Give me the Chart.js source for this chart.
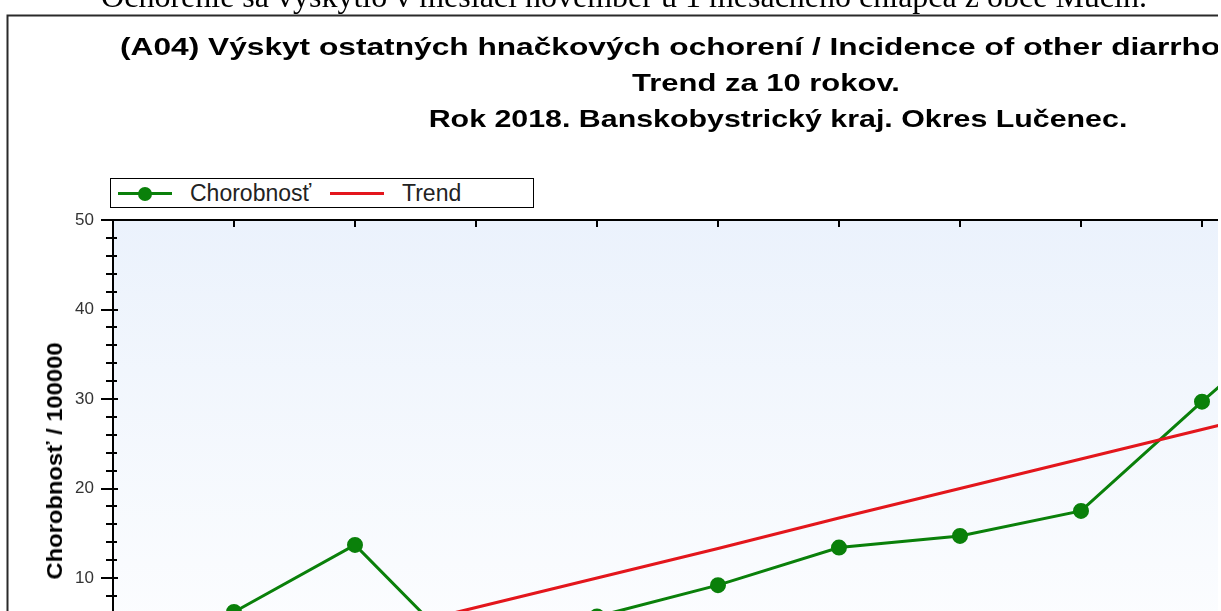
<!DOCTYPE html>
<html>
<head>
<meta charset="utf-8">
<script src="https://cdn.jsdelivr.net/npm/chart.js@4/dist/chart.umd.min.js"></script>
<style>
  html, body { margin:0; padding:0; background:#fff; }
  #clip { position:absolute; left:0; top:0; width:1218px; height:611px; overflow:hidden; background:#fff; }
  #note { position:absolute; left:0; top:-20px; width:1248px; text-align:center; white-space:nowrap; z-index:3;
          font-family:"Liberation Serif","Times New Roman",serif; font-size:32px; line-height:32px; color:#000; }
  canvas { position:absolute; left:0; top:0; z-index:1; }
  .tl { position:absolute; white-space:nowrap; font-family:"Liberation Sans",Arial,sans-serif; font-weight:bold; z-index:2;
        font-size:24px; line-height:24px; color:#000; transform-origin:0 0; }
  #ytitle { position:absolute; left:54.5px; top:461px; white-space:nowrap; font-family:"Liberation Sans",Arial,sans-serif; z-index:2;
            font-weight:bold; font-size:22px; line-height:22px; color:#000; transform-origin:0 0;
            transform: rotate(-90deg) scaleX(1.08) translate(-50%,-50%); }
  #legend { position:absolute; left:110px; top:178px; width:424px; height:30px; box-sizing:border-box; z-index:2;
            border:1.5px solid #000; background:#fff; font-family:"Liberation Sans",Arial,sans-serif; font-size:23px; color:#222; }
  #legend .ln { position:absolute; height:3px; top:13px; }
  #legend .mk { position:absolute; width:14px; height:14px; border-radius:50%; top:7.5px; }
  #legend .tx { position:absolute; top:1px; line-height:26px; white-space:nowrap; }
</style>
</head>
<body>
<div id="clip">
  <div id="note">Ochorenie sa vyskytlo v mesiaci november u 1 mesačného chlapca z obce Mučín.</div>
  <canvas id="c" width="1540" height="760"></canvas>
  <div class="tl" id="t1" style="left:120px; top:34.7px; transform:scaleX(1.32);">(A04) Výskyt ostatných hnačkových ochorení / Incidence of other diarrhoeal diseases</div>
  <div class="tl" id="t2" style="left:766px; top:70.7px; transform:scaleX(1.29) translateX(-50%);">Trend za 10 rokov.</div>
  <div class="tl" id="t3" style="left:778px; top:106.7px; transform:scaleX(1.265) translateX(-50%);">Rok 2018. Banskobystrický kraj. Okres Lučenec.</div>
  <div id="ytitle">Chorobnosť / 100000</div>
  <div id="legend">
    <div class="ln" style="left:7px; width:54px; background:#0a800a;"></div>
    <div class="mk" style="left:27px; background:#0a800a;"></div>
    <div class="tx" style="left:79px;">Chorobnosť</div>
    <div class="ln" style="left:219px; width:54px; background:#e3161c;"></div>
    <div class="tx" style="left:291px;">Trend</div>
  </div>
</div>
<script>
// ---- data ----
const years = ['2008','2009','2010','2011','2012','2013','2014','2015','2016','2017','2018'];
const chorobnost = [null, 6.2, 13.7, 0, 5.7, 9.2, 13.4, 14.7, 17.5, 29.7, 41.5];
const trend = [-3.2, 0.1, 3.4, 6.7, 10.0, 13.3, 16.7, 20.0, 23.3, 26.6, 29.9];
const yTickValues = [0, 10, 20, 30, 40, 50];
const yMin = -5, yMax = 50, yMinorStep = 2;

const GREEN = '#0a800a';
const RED = '#e3161c';
const FONT = '"Liberation Sans", Arial, sans-serif';

const decor = {
  id: 'decor',
  beforeDraw(chart) {
    const {ctx, chartArea: a} = chart;
    ctx.save();
    ctx.fillStyle = '#fff';
    ctx.fillRect(0, 0, chart.width, chart.height);
    // outer chart frame
    ctx.strokeStyle = '#2a2a2a';
    ctx.lineWidth = 2;
    ctx.strokeRect(7.5, 15.5, chart.width, chart.height);
    // plot background gradient
    const g = ctx.createLinearGradient(0, a.top, 0, a.bottom);
    g.addColorStop(0, '#ebf2fc');
    g.addColorStop(1, '#ffffff');
    ctx.fillStyle = g;
    ctx.fillRect(a.left, a.top, a.right - a.left, a.bottom - a.top);
    ctx.restore();
  },
  afterDraw(chart) {
    const {ctx, chartArea: a, scales: {x, y}} = chart;
    ctx.save();
    ctx.strokeStyle = '#000';
    ctx.lineWidth = 2;
    // top frame line
    ctx.beginPath();
    ctx.moveTo(a.left - 1, a.top);
    ctx.lineTo(a.right, a.top);
    ctx.stroke();
    // inward ticks on top edge
    ctx.beginPath();
    for (let i = 0; i < x.ticks.length; i++) {
      const px = Math.round(x.getPixelForTick(i));
      ctx.moveTo(px, a.top);
      ctx.lineTo(px, a.top + 7);
    }
    ctx.stroke();
    // crossing ticks on the y axis (major + minor)
    const ax = a.left - 1;
    ctx.beginPath();
    for (let v = Math.ceil(y.min / yMinorStep) * yMinorStep; v <= y.max; v += yMinorStep) {
      const py = Math.round(y.getPixelForValue(v));
      const major = yTickValues.includes(v);
      ctx.moveTo(ax - (major ? 11 : 6), py);
      ctx.lineTo(ax + (major ? 6 : 5), py);
    }
    ctx.stroke();
    ctx.restore();
  }
};

new Chart(document.getElementById('c'), {
  type: 'line',
  data: {
    labels: years,
    datasets: [
      { label: 'Trend', data: trend, borderColor: RED, borderWidth: 3, pointRadius: 0, order: 0, tension: 0 },
      { label: 'Chorobnosť', data: chorobnost, borderColor: GREEN, backgroundColor: GREEN, borderWidth: 3,
        pointRadius: 7, pointBorderWidth: 2, pointBorderColor: GREEN, pointBackgroundColor: GREEN, order: 1, tension: 0, spanGaps: false }
    ]
  },
  options: {
    responsive: false,
    animation: false,
    devicePixelRatio: 1,
    layout: { padding: { top: 220, left: 0, right: 217, bottom: 17.75 } },
    plugins: { legend: { display: false }, title: { display: false }, tooltip: { enabled: false } },
    scales: {
      x: {
        type: 'category', offset: false,
        grid: { display: false, drawTicks: false },
        border: { display: true, color: '#000', width: 2 },
        ticks: { font: { family: FONT, size: 17 }, color: '#333', padding: 8 },
        afterFit(s) { s.height = 30; }
      },
      y: {
        min: yMin, max: yMax,
        afterBuildTicks(s) { s.ticks = yTickValues.map(v => ({ value: v })); },
        grid: { display: false, drawTicks: false },
        border: { display: true, color: '#000', width: 2 },
        ticks: { font: { family: FONT, size: 17 }, color: '#333', padding: 19 },
        afterFit(s) { s.width = 113; }
      }
    }
  },
  plugins: [decor]
});
</script>
</body>
</html>
